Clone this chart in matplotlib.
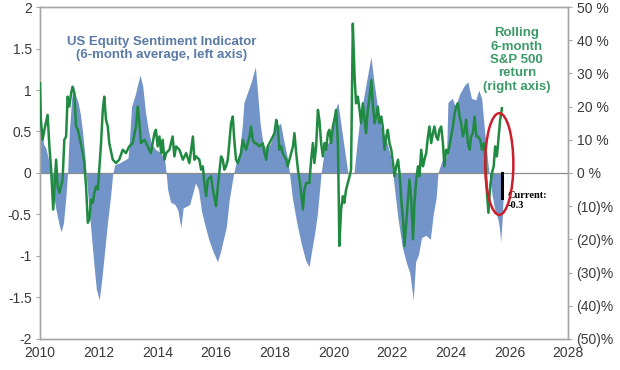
import numpy as np
import matplotlib
matplotlib.use("Agg")
from matplotlib import pyplot as plt
from matplotlib.patches import Ellipse

plt.rcParams['font.family'] = ['Liberation Sans', 'DejaVu Sans']

# indicatore sentiment (media 6 mesi, asse sinistro)
anni_sent = [2010.00, 2010.05, 2010.12, 2010.20, 2010.30, 2010.37, 2010.45, 2010.55, 2010.65, 2010.72,
             2010.80, 2010.88, 2010.94, 2011.00, 2011.08, 2011.14, 2011.20, 2011.30, 2011.38, 2011.45,
             2011.52, 2011.57, 2011.65, 2011.75, 2011.85, 2011.92, 2012.02, 2012.10, 2012.20, 2012.30,
             2012.40, 2012.48, 2012.55, 2012.70, 2012.85, 2013.00, 2013.05, 2013.12, 2013.25, 2013.35,
             2013.41, 2013.50, 2013.60, 2013.70, 2013.80, 2013.95, 2014.10, 2014.25, 2014.30, 2014.35,
             2014.45, 2014.60, 2014.70, 2014.80, 2014.88, 2015.00, 2015.10, 2015.20, 2015.30, 2015.40,
             2015.50, 2015.60, 2015.75, 2015.90, 2016.05, 2016.15, 2016.25, 2016.35, 2016.45, 2016.60,
             2016.70, 2016.80, 2016.90, 2016.95, 2017.05, 2017.20, 2017.34, 2017.42, 2017.50, 2017.60,
             2017.70, 2017.85, 2017.95, 2018.05, 2018.20, 2018.30, 2018.45, 2018.50, 2018.60, 2018.75,
             2018.90, 2019.05, 2019.17, 2019.25, 2019.35, 2019.45, 2019.58, 2019.70, 2019.85, 2019.95,
             2020.05, 2020.15, 2020.25, 2020.35, 2020.49, 2020.70, 2020.80, 2020.90, 2021.00, 2021.10,
             2021.20, 2021.28, 2021.38, 2021.50, 2021.62, 2021.80, 2021.95, 2022.02, 2022.10, 2022.20,
             2022.35, 2022.50, 2022.60, 2022.72, 2022.80, 2022.90, 2023.00, 2023.15, 2023.30, 2023.40,
             2023.50, 2023.56, 2023.70, 2023.85, 2023.90, 2024.05, 2024.15, 2024.30, 2024.45, 2024.58,
             2024.70, 2024.85, 2024.95, 2025.05, 2025.15, 2025.30, 2025.40, 2025.50, 2025.60, 2025.65,
             2025.70, 2025.75, 2025.78]
sentiment = [1.08, 0.55, 0.35, 0.30, 0.15, 0.00, -0.25, -0.45, -0.62, -0.71,
             -0.60, -0.30, 0.00, 0.50, 0.90, 1.06, 0.95, 0.85, 0.70, 0.50,
             0.25, 0.00, -0.35, -0.75, -1.15, -1.40, -1.53, -1.30, -0.95, -0.60,
             -0.30, 0.00, 0.10, 0.12, 0.15, 0.18, 0.40, 0.80, 0.95, 1.10,
             1.18, 1.05, 0.72, 0.50, 0.35, 0.28, 0.25, 0.15, 0.00, -0.20,
             -0.35, -0.38, -0.45, -0.66, -0.42, -0.40, -0.38, -0.25, -0.12, -0.20,
             -0.45, -0.60, -0.80, -0.95, -1.07, -0.95, -0.80, -0.65, -0.32, 0.00,
             0.15, 0.25, 0.60, 0.85, 0.95, 1.10, 1.28, 0.95, 0.60, 0.35,
             0.30, 0.35, 0.45, 0.55, 0.60, 0.40, 0.15, 0.00, -0.30, -0.60,
             -0.85, -1.05, -1.13, -0.95, -0.75, -0.50, 0.00, 0.30, 0.38, 0.55,
             0.75, 0.85, 0.60, 0.35, 0.00, 0.00, 0.35, 0.65, 0.85, 1.05,
             1.25, 1.40, 1.10, 0.80, 0.56, 0.40, 0.20, 0.00, -0.25, -0.55,
             -0.90, -1.10, -1.20, -1.53, -1.07, -0.98, -0.78, -0.75, -0.80, -0.50,
             -0.30, 0.00, 0.15, 0.18, 0.85, 0.90, 0.80, 0.95, 1.05, 1.10,
             0.90, 0.88, 1.00, 0.90, 0.50, 0.00, -0.25, -0.45, -0.55, -0.65,
             -0.83, -0.55, -0.30]

# rendimento S&P 500 a 6 mesi (%, asse destro)
anni_sp = [2010.00, 2010.03, 2010.09, 2010.15, 2010.26, 2010.32, 2010.38, 2010.45, 2010.55, 2010.60,
           2010.66, 2010.77, 2010.83, 2010.89, 2010.94, 2011.00, 2011.06, 2011.11, 2011.17, 2011.23,
           2011.29, 2011.34, 2011.46, 2011.51, 2011.57, 2011.63, 2011.68, 2011.74, 2011.80, 2011.85,
           2011.91, 2011.97, 2012.02, 2012.08, 2012.14, 2012.19, 2012.25, 2012.31, 2012.36, 2012.48,
           2012.59, 2012.70, 2012.82, 2012.93, 2013.04, 2013.16, 2013.27, 2013.33, 2013.39, 2013.44,
           2013.56, 2013.67, 2013.78, 2013.90, 2013.95, 2014.01, 2014.07, 2014.13, 2014.18, 2014.24,
           2014.30, 2014.41, 2014.52, 2014.58, 2014.64, 2014.75, 2014.87, 2014.98, 2015.09, 2015.21,
           2015.26, 2015.32, 2015.43, 2015.49, 2015.55, 2015.60, 2015.66, 2015.72, 2015.83, 2015.89,
           2016.00, 2016.06, 2016.17, 2016.23, 2016.28, 2016.34, 2016.40, 2016.45, 2016.51, 2016.57,
           2016.62, 2016.68, 2016.74, 2016.85, 2016.91, 2016.97, 2017.02, 2017.14, 2017.19, 2017.25,
           2017.31, 2017.36, 2017.48, 2017.59, 2017.65, 2017.71, 2017.76, 2017.88, 2017.99, 2018.05,
           2018.10, 2018.16, 2018.22, 2018.27, 2018.39, 2018.44, 2018.50, 2018.62, 2018.67, 2018.73,
           2018.79, 2018.84, 2018.90, 2018.96, 2019.01, 2019.07, 2019.18, 2019.24, 2019.30, 2019.35,
           2019.41, 2019.47, 2019.52, 2019.58, 2019.64, 2019.70, 2019.75, 2019.81, 2019.86, 2019.92,
           2019.98, 2020.03, 2020.09, 2020.15, 2020.18, 2020.20, 2020.26, 2020.32, 2020.37, 2020.43,
           2020.49, 2020.55, 2020.60, 2020.66, 2020.72, 2020.77, 2020.83, 2020.89, 2020.94, 2021.00,
           2021.06, 2021.11, 2021.17, 2021.23, 2021.29, 2021.34, 2021.40, 2021.46, 2021.51, 2021.57,
           2021.63, 2021.68, 2021.74, 2021.80, 2021.85, 2021.91, 2021.97, 2022.03, 2022.08, 2022.14,
           2022.20, 2022.25, 2022.31, 2022.37, 2022.42, 2022.48, 2022.54, 2022.59, 2022.65, 2022.71,
           2022.76, 2022.82, 2022.88, 2022.93, 2022.99, 2023.05, 2023.10, 2023.16, 2023.22, 2023.27,
           2023.33, 2023.39, 2023.44, 2023.50, 2023.56, 2023.61, 2023.67, 2023.73, 2023.78, 2023.84,
           2023.90, 2023.95, 2024.01, 2024.07, 2024.13, 2024.18, 2024.24, 2024.30, 2024.35, 2024.41,
           2024.47, 2024.52, 2024.58, 2024.64, 2024.69, 2024.75, 2024.81, 2024.87, 2024.92, 2025.00,
           2025.06, 2025.12, 2025.17, 2025.23, 2025.28, 2025.34, 2025.40, 2025.46, 2025.51, 2025.57,
           2025.63, 2025.68, 2025.74]
sp500 = [27, 16, 10, 13, 17.5, 8, 1, -11, 4, -4,
         -6, -2, 10, 11, 23, 20, 24, 26, 24, 14,
         13, 11, 6, 3, -4, -15, -14, -8, -9, -6,
         -4, -5, 1, 9, 19, 23, 16, 14, 9, 4,
         3, 4, 7, 6, 8, 9, 14, 20, 15, 9,
         10, 8, 6, 12, 13, 8, 11, 6, 10, 4,
         6, 7, 11, 5, 8, 7, 4, 6, 3, 11,
         4, 5, 4, 1, 2, -3, -7, -2, -1, -5,
         -10, -4, 5, 4, 1, 2, 4, 9, 15, 17,
         10, 4, 3, 6, 10, 8, 7, 11, 14, 10,
         9, 9, 8, 9, 6, 4, 8, 10, 12, 16,
         14, 7, 8, 6, 4, 2, 4, 8, 12, 6,
         1, -2, -6, -11, -5, -3, -3, 4, 9, 3,
         8, 19, 16, 9, 5, 9, 7, 12, 13, 9,
         14, 16, 19, 9, -7, -22, -11, -7, -9, -5,
         -3, -1, 1, 45, 29, 21, 23, 19, 15, 21,
         16, 12, 19, 23, 28, 21, 15, 17, 20, 15,
         17, 14, 7, 11, 13, 9, 7, 3, -1, 2,
         4, 0, -8, -14, -22, -15, -8, -2, -8, -20,
         -9, -2, 2, -1, 7, 2, 4, 6, 11, 14,
         9, 12, 14, 11, 10, 13, 14, 9, 2, 7,
         6, 8, 11, 14, 18, 20, 21, 17, 15, 11,
         13, 16, 9, 7, 11, 12, 17, 11, 11, 10,
         7, 9, 5, -6, -12, -4, 0, 2, 8, 5,
         11, 16, 19.5]

anno_corrente = 2025.74
valore_corrente = -0.3

tick_sx = [2, 1.5, 1, 0.5, 0, -0.5, -1, -1.5, -2]
tick_sx_lab = ['2', '1.5', '1', '0.5', '0', '-0.5', '-1', '-1.5', '-2']
tick_dx = [50, 40, 30, 20, 10, 0, -10, -20, -30, -40, -50]
tick_dx_lab = ['50 %', '40 %', '30 %', '20 %', '10 %', '0 %', '(10)%', '(20)%', '(30)%', '(40)%', '(50)%']
tick_x = [2010, 2012, 2014, 2016, 2018, 2020, 2022, 2024, 2026, 2028]

blu = '#7394c8'
verde = '#218a42'
grigio = '#a6a6a6'
testo = '#3a3a3a'

fig = plt.figure(figsize=(6.2, 3.7), dpi=100)
ax = fig.add_axes([0.0645, 0.084, 0.852, 0.897])
ax2 = ax.twinx()

ax.fill_between(anni_sent, 0, sentiment, color=blu, linewidth=0, zorder=1)
ax.axhline(0, color='#8c8c8c', linewidth=0.9, zorder=2)
ax.plot([anno_corrente, anno_corrente], [0, valore_corrente], color='black', linewidth=2.2, zorder=3)

ax2.plot(anni_sp, sp500, color=verde, linewidth=1.8, zorder=3)
ax2.add_patch(Ellipse((2025.65, 2.7), 0.96, 30.6, fill=False, edgecolor='#cc1f2c', linewidth=1.8, zorder=4))

ax.set_xlim(2010, 2028)
ax.set_ylim(-2, 2)
ax2.set_ylim(-50, 50)

ax.set_xticks(tick_x)
ax.set_xticklabels([str(t) for t in tick_x])
ax.set_yticks(tick_sx)
ax.set_yticklabels(tick_sx_lab)
ax2.set_yticks(tick_dx)
ax2.set_yticklabels(tick_dx_lab)

for a in (ax, ax2):
    for s in a.spines.values():
        s.set_color(grigio)
        s.set_linewidth(1.0)
ax.tick_params(axis='x', length=0, pad=5, labelsize=10, labelcolor=testo)
ax.tick_params(axis='y', length=3, color=grigio, pad=3, labelsize=10, labelcolor=testo)
ax2.tick_params(axis='y', length=3, color=grigio, pad=3, labelsize=10, labelcolor=testo)

ax.text(2014.15, 1.5, 'US Equity Sentiment Indicator\n(6-month average, left axis)', ha='center', va='center',
        color='#5a7aa6', fontsize=9.5, fontweight='bold', linespacing=1.1)
ax2.text(2026.25, 34, 'Rolling\n6-month\nS&P 500\nreturn\n(right axis)', ha='center', va='center',
         color='#3b9a68', fontsize=9.5, fontweight='bold', linespacing=1.15)
ax.text(2025.93, -0.33, 'Current:\n-0.3', ha='left', va='center', color='black', fontsize=7.5,
        fontweight='bold', family=['Liberation Serif', 'DejaVu Serif'], linespacing=1.05)

plt.savefig('out.png', dpi=100)
